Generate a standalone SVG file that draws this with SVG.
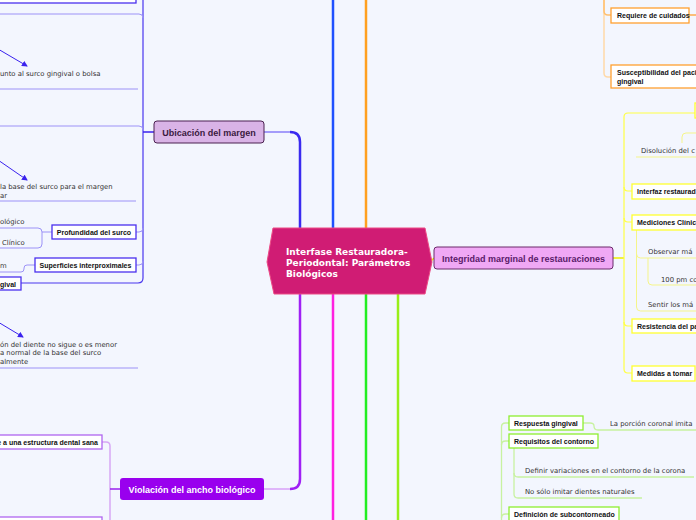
<svg xmlns="http://www.w3.org/2000/svg" width="696" height="520" viewBox="0 0 696 520">
<defs>
<marker id="ah" markerWidth="6" markerHeight="6" refX="5" refY="3" orient="auto" markerUnits="userSpaceOnUse">
<path d="M0,0 L6,3 L0,6 Z" fill="#3a22ee"/>
</marker>
<style>
.bg{fill:#f3f6fe}
.t{font-family:"DejaVu Sans",Verdana,sans-serif;font-size:6.85px;fill:#333}
.b{font-family:"Liberation Sans",Arial,sans-serif;font-weight:bold;font-size:7px;fill:#111}
.n{font-family:"Liberation Sans",Arial,sans-serif;font-weight:bold;font-size:9px}
.bx{fill:#fff;stroke-width:1.3}
.bl{stroke:#4a30ee}
.or{stroke:#ffa030}
.ye{stroke:#ffff30}
.gr{stroke:#8eee30}
.vi{stroke:#b066f0}
.c{fill:none}
.lb{stroke:#9c92f7;stroke-width:1}
.lo{stroke:#ffd9a8;stroke-width:1.5}
.ly{stroke:#f5f58a;stroke-width:1}
.lg{stroke:#c8f2a0;stroke-width:1.3}
.lv{stroke:#d8a8f5;stroke-width:1.5}
</style>
</defs>
<rect class="bg" x="0" y="0" width="696" height="520"/>

<g id="connectors" class="c">
<path d="M333,0 V229" stroke="#1f50ff" stroke-width="2.5"/>
<path d="M366,0 V229" stroke="#ffa020" stroke-width="2.5"/>
<path d="M333,293 V520" stroke="#ff20e0" stroke-width="2.5"/>
<path d="M366,293 V520" stroke="#22ee22" stroke-width="2.5"/>
<path d="M398,293 V520" stroke="#99ee18" stroke-width="2.5"/>
<path d="M264,132 H290" stroke="#8a7ef8" stroke-width="1.5"/>
<path d="M290,132 Q300,132 300,142 V229" stroke="#3a2af0" stroke-width="2.5"/>
<path d="M264,489 H290" stroke="#d8a0f8" stroke-width="1.5"/>
<path d="M290,489 Q300,489 300,479 V293" stroke="#a020f5" stroke-width="2.5"/>
<path d="M430,262 L434,258" stroke="#eeee00" stroke-width="1.5"/>

<path d="M143,0 V278 Q143,283 138,283 H21" stroke="#4a36ee" stroke-width="1.2"/>
<path d="M154,132 H143" stroke="#3a22ee" stroke-width="1.5"/>
<path class="lb" d="M0,14 H139 Q143,14 143,18"/>
<path class="lb" d="M0,89 H138"/>
<path class="lb" d="M0,126 H139 Q143,126 143,130"/>
<path class="lb" d="M0,201 H136"/>
<path class="lb" d="M0,228 H38 Q42,228 42,232 V244 Q42,248 38,248 H0"/>
<path class="lb" d="M42,232 H52"/>
<path class="lb" d="M136,232 H139 Q143,232 143,228"/>
<path class="lb" d="M136,265 H139 Q143,265 143,261"/>
<path class="lb" d="M35,265 H27 Q24,265 24,268 V269 Q24,272 21,272 H0"/>
<path class="lb" d="M0,368 H138"/>
<path d="M-2,49 L27,66" stroke="#3a22ee" stroke-width="1" marker-end="url(#ah)"/>
<path d="M-2,160 L27,180" stroke="#3a22ee" stroke-width="1" marker-end="url(#ah)"/>
<path d="M-2,322 L23,337" stroke="#3a22ee" stroke-width="1" marker-end="url(#ah)"/>

<path class="lv" d="M102,442 H106 Q110,442 110,446 V520"/>
<path d="M120,489 H110" stroke="#9a20ee" stroke-width="1.5"/>

<path class="lo" d="M604,0 V73 Q604,77 608,77 H611"/>
<path d="M604,0 V11 Q604,15 608,15 H611" stroke="#ffc070" stroke-width="1.5"/>
<path d="M689,15 H696" stroke="#ffa030" stroke-width="1.3"/>

<path d="M613,258 H624" stroke="#eeee00" stroke-width="1.5"/>
<path d="M696,113 H628 Q624,113 624,117 V369 Q624,373 628,373 H632" stroke="#ffff44" stroke-width="1.2"/>
<path d="M624,187 Q624,191 628,191 H632" stroke="#ffff44" stroke-width="1.2"/>
<path d="M624,218 Q624,222 628,222 H632" stroke="#ffff44" stroke-width="1.2"/>
<path d="M624,322 Q624,326 628,326 H632" stroke="#ffff44" stroke-width="1.2"/>
<path class="ly" d="M636,157 H696"/>
<path class="ly" d="M682,143 V137 Q682,133 686,133 H696"/>
<path class="ly" d="M636.5,230 V307 Q636.5,311 640.5,311 H696"/>
<path class="ly" d="M636.5,254 Q636.5,258 640.5,258 H696"/>
<path class="ly" d="M648,258 V281 Q648,285 652,285 H696"/>

<path class="lg" d="M501.5,520 V427 Q501.5,423 505.5,423 H509"/>
<path class="lg" d="M501.5,445 Q501.5,441 505.5,441 H509"/>
<path class="lg" d="M501.5,518 Q501.5,514 505.5,514 H509"/>
<path class="lg" d="M583,423 H590 Q594,423 594,426 Q594,430 598,430 H696"/>
<path class="lg" d="M514,448 V494 Q514,498 518,498 H642"/>
<path class="lg" d="M514,473 Q514,477 518,477 H694"/>
</g>

<g id="central">
<polygon points="267,262 273,228 425,228 432,262 425,294 274,294" fill="#d01c74" stroke="#ec4a85" stroke-width="1"/>
<text font-family="'DejaVu Sans',Verdana,sans-serif" font-weight="bold" font-size="9" fill="#fff"><tspan x="286" y="255">Interfase Restauradora-</tspan><tspan x="286" y="266">Periodontal: Parámetros</tspan><tspan x="286" y="277">Biológicos</tspan></text>
</g>

<g id="ubicacion">
<rect x="154" y="121" width="110" height="22" rx="3" fill="#d9b3e6" stroke="#4a2050" stroke-width="1"/>
<text class="n" x="209" y="135.5" text-anchor="middle" fill="#3a1a40">Ubicación del margen</text>
</g>

<g id="violacion">
<rect x="120" y="478" width="144" height="22" rx="3" fill="#9900ee"/>
<text class="n" x="192" y="492.5" text-anchor="middle" fill="#fff">Violación del ancho biológico</text>
</g>

<g id="integridad">
<rect x="434" y="247" width="179" height="22" rx="3" fill="#f0a8f5" stroke="#6a2a6a" stroke-width="1"/>
<text class="n" x="523.5" y="261.5" text-anchor="middle" fill="#5a1a6a">Integridad marginal de restauraciones</text>
</g>

<g id="top-box"><rect class="bx bl" x="-10" y="-15" width="146" height="18"/></g>
<g id="t-surco"><text class="t" x="0" y="75.5">unto al surco gingival o bolsa</text></g>
<g id="t-base"><text class="t"><tspan x="0" y="189">la base del surco para el margen</tspan><tspan x="0" y="197.5">ar</tspan></text></g>
<g id="t-ologico"><text class="t" x="0" y="223.5">ológico</text></g>
<g id="t-clinico"><text class="t" x="2" y="244.5">Clínico</text></g>
<g id="profundidad"><rect class="bx bl" x="52" y="225" width="84" height="14"/><text class="b" x="94" y="234.5" text-anchor="middle">Profundidad del surco</text></g>
<g id="superficies"><rect class="bx bl" x="35" y="258" width="101" height="14"/><text class="b" x="85.5" y="267.5" text-anchor="middle">Superficies interproximales</text></g>
<g id="t-m"><text class="t" x="0" y="268">m</text></g>
<g id="gival"><rect class="bx bl" x="-20" y="277" width="41" height="13"/><text class="b" x="16" y="286.5" text-anchor="end">gival</text></g>
<g id="t-diente"><text class="t"><tspan x="0" y="346.5">ón del diente no sigue o es menor</tspan><tspan x="0" y="355">a normal de la base del surco</tspan><tspan x="0" y="363.5">almente</tspan></text></g>

<g id="sana"><rect class="bx vi" x="-10" y="435" width="112" height="14"/><text class="b" x="98" y="444.5" text-anchor="end">e a una estructura dental sana</text></g>
<g id="vi-bottom"><rect class="bx vi" x="-10" y="517" width="112" height="14"/></g>

<g id="requiere"><rect class="bx or" x="611" y="8" width="78" height="15"/><text class="b" x="617" y="18">Requiere de cuidados</text></g>
<g id="susceptibilidad"><rect class="bx or" x="611" y="65" width="95" height="23"/><text class="b"><tspan x="617" y="74.5">Susceptibilidad del paci</tspan><tspan x="617" y="83.5">gingival</tspan></text></g>

<g id="ye-top"><rect class="bx ye" x="695" y="103" width="20" height="15"/></g>
<g id="t-disolucion"><text class="t" x="641" y="152.5">Disolución del c</text></g>
<g id="interfaz"><rect class="bx ye" x="632" y="184" width="70" height="15"/><text class="b" x="637" y="194">Interfaz restaurad</text></g>
<g id="mediciones"><rect class="bx ye" x="632" y="215" width="70" height="15"/><text class="b" x="637" y="225">Mediciones Clínic</text></g>
<g id="t-observar"><text class="t" x="648" y="254">Observar má</text></g>
<g id="t-100"><text class="t" x="661" y="281.5">100 pm co</text></g>
<g id="t-sentir"><text class="t" x="648" y="306.5">Sentir los má</text></g>
<g id="resistencia"><rect class="bx ye" x="632" y="319" width="70" height="14"/><text class="b" x="637" y="328.5">Resistencia del pa</text></g>
<g id="medidas"><rect class="bx ye" x="632" y="366" width="63" height="15"/><text class="b" x="637" y="376">Medidas a tomar</text></g>

<g id="respuesta"><rect class="bx gr" x="509" y="416" width="74" height="14"/><text class="b" x="514" y="425.5">Respuesta gingival</text></g>
<g id="t-porcion"><text class="t" x="610" y="425.5">La porción coronal imita</text></g>
<g id="requisitos"><rect class="bx gr" x="509" y="434" width="89" height="14"/><text class="b" x="514" y="443.5">Requisitos del contorno</text></g>
<g id="t-definir"><text class="t" x="525" y="473">Definir variaciones en el contorno de la corona</text></g>
<g id="t-nosolo"><text class="t" x="525" y="494">No sólo imitar dientes naturales</text></g>
<g id="definicion"><rect class="bx gr" x="509" y="507" width="110" height="14"/><text class="b" x="514" y="516.5">Definición de subcontorneado</text></g>
</svg>
